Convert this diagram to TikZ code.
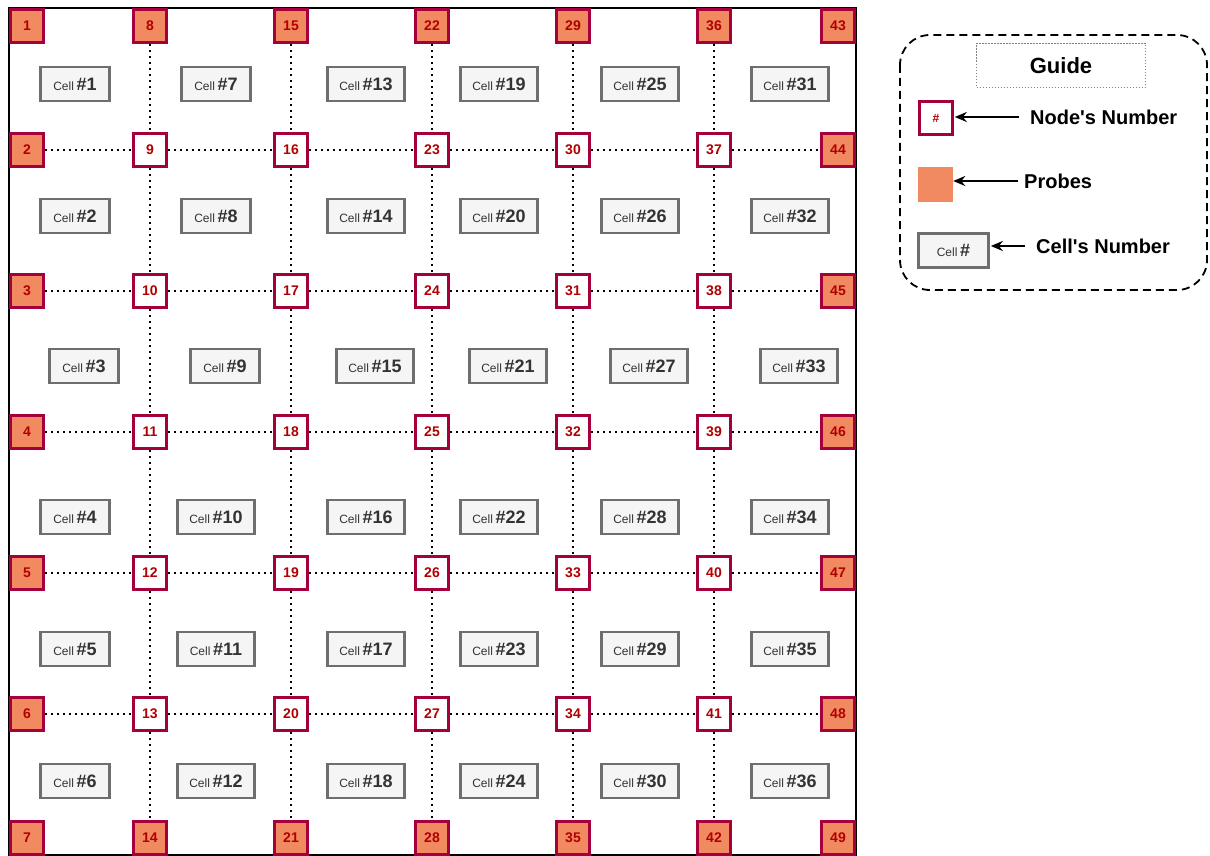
\documentclass[tikz,border=0pt]{standalone}
\usepackage{fontspec}
\setmainfont{Liberation Sans}
\usetikzlibrary{arrows.meta}
\definecolor{figE}{RGB}{165,0,60}
\definecolor{figP}{RGB}{241,137,97}
\definecolor{figT}{RGB}{178,0,0}
\definecolor{figC}{RGB}{245,245,245}
\definecolor{figG}{RGB}{110,110,110}

\begin{document}
\begin{tikzpicture}[x=1pt,y=-1pt,>={Stealth[length=12pt,width=10pt]},
  nd/.style={draw=figE,line width=2.6pt,fill=white,minimum size=33pt,inner sep=0pt,
    text=figT,font=\fontsize{14}{14}\selectfont\bfseries},
  probe/.style={nd,fill=figP},
  cell/.style={draw=figG,line width=2.6pt,fill=figC,minimum height=34pt,inner sep=0pt,text=black!80},
  link/.style={line width=2pt,dash pattern=on 2pt off 4pt},
  lbl/.style={anchor=west,inner sep=0pt,font=\fontsize{20}{20}\selectfont\bfseries}]
\useasboundingbox (0,0) rectangle (1210,856);
\draw[line width=2.2pt] (9,8) rectangle (856,855);
% nodes
\foreach \x [count=\i from 0] in {27,150,291,432,573,714,838}
  \foreach \y [count=\j from 0] in {26,150,291,432,573,714,838} {
    \pgfmathtruncatemacro{\n}{7*\i+\j+1}
    \pgfmathtruncatemacro{\e}{(\i==0)||(\i==6)||(\j==0)||(\j==6)}
    \ifnum\e=1 \def\s{probe}\else\def\s{nd}\fi
    \node[\s] (n\n) at (\x,\y) {\n};
  }
\foreach \j in {1,...,5} \foreach \i in {0,...,5} {
  \pgfmathtruncatemacro{\a}{7*\i+\j+1}
  \pgfmathtruncatemacro{\b}{\a+7}
  \draw[link] (n\a) -- (n\b);
}
\foreach \i in {1,...,5} \foreach \j in {0,...,5} {
  \pgfmathtruncatemacro{\a}{7*\i+\j+1}
  \pgfmathtruncatemacro{\b}{\a+1}
  \draw[link] (n\a) -- (n\b);
}
% cells
\foreach \x [count=\i from 0] in {75,216,366,499,640,790}
  \foreach \y [count=\j from 0] in {84,216,366,517,649,781} {
    \pgfmathtruncatemacro{\n}{6*\i+\j+1}
    \pgfmathsetmacro{\w}{\n<10 ? 69 : 77}
    \pgfmathsetmacro{\dx}{\j==2 ? 9 : 0}
    \node[cell,minimum width=\w pt] (c\n) at (\x+\dx,\y)
      {{\fontsize{12}{12}\selectfont Cell} {\fontsize{18}{18}\selectfont\bfseries\#\n}};
  }
% guide
\draw[line width=1.8pt,dash pattern=on 8pt off 5pt,rounded corners=30pt] (900,35) rectangle (1207,290);
\node[draw=gray,line width=0.8pt,dash pattern=on 1.5pt off 1.5pt,minimum width=169pt,minimum height=44pt,
  font=\fontsize{22}{22}\selectfont\bfseries] (guide) at (1061,65.5) {Guide};
\node[nd,font=\fontsize{12}{12}\selectfont\bfseries] (gnd) at (936,118) {\#};
\node[fill=figP,minimum size=35pt,inner sep=0pt] (gpr) at (935.5,184.5) {};
\node[cell,minimum width=70pt] (gcl) at (953.5,250.5)
  {{\fontsize{12}{12}\selectfont Cell} {\fontsize{18}{18}\selectfont\bfseries\#}};
\node[lbl] (tnd) at (1030,117) {Node\textquotesingle s Number};
\node[lbl] (tpr) at (1024,181) {Probes};
\node[lbl] (tcl) at (1036,246) {Cell\textquotesingle s Number};
\draw[->,line width=2.2pt,shorten <=11pt,shorten >=1pt] (tnd.west) -- (gnd.east |- tnd.west);
\draw[->,line width=2.2pt,shorten <=6pt] (tpr.west) -- (gpr.east |- tpr.west);
\draw[->,line width=2.2pt,shorten <=11pt,shorten >=1pt] (tcl.west) -- (gcl.east |- tcl.west);
\end{tikzpicture}
\end{document}
